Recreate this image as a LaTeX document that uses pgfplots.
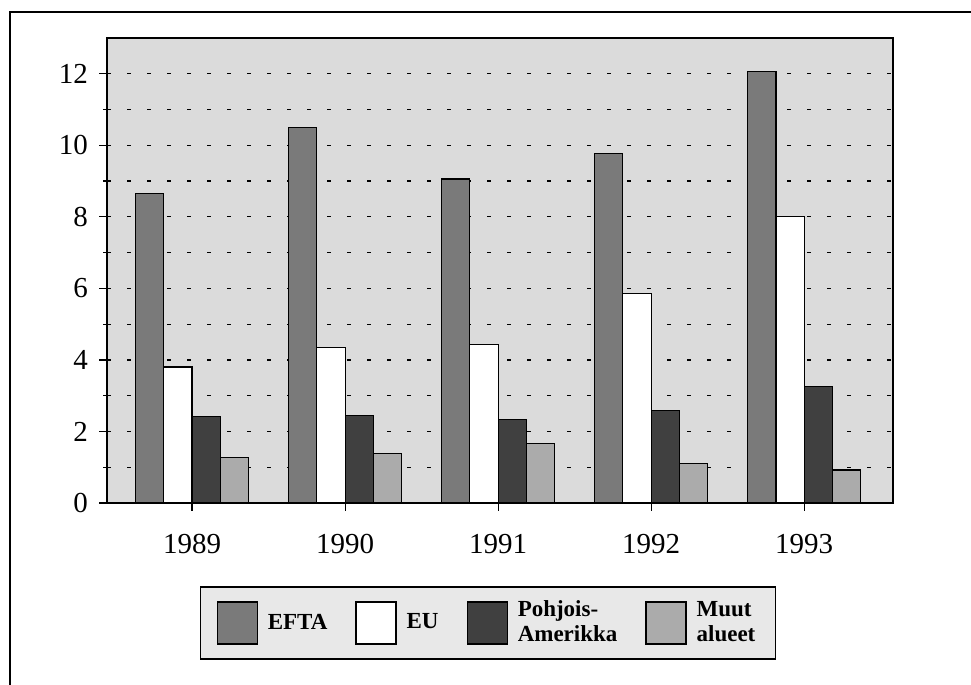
\documentclass[border=0pt]{standalone}
\usepackage{pgfplots}
\pgfplotsset{compat=1.18}
\usepackage{fontspec}
\setmainfont{Liberation Serif}
\begin{document}
\begin{tikzpicture}
\path[use as bounding box] (0pt,0pt) rectangle (485.5pt,342.5pt);
\draw[line width=0.8pt] (5pt,0pt) -- (5pt,336.5pt) -- (485.5pt,336.5pt);
\begin{axis}[
  at={(53.5pt,91pt)}, anchor=south west,
  scale only axis, width=393pt, height=232.5pt,
  xmin=-0.556, xmax=4.58, ymin=0, ymax=13,
  xtick={0,1,2,3,4}, xticklabels={1989,1990,1991,1992,1993},
  ytick={0,2,4,6,8,10,12}, minor ytick={1,3,5,7,9,11},
  /pgf/number format/assume math mode=true,
  ymajorgrids, yminorgrids,
  major grid style={black, line width=0.6pt, dash pattern=on 2pt off 8pt},
  minor grid style={black, line width=0.6pt, dash pattern=on 2pt off 8pt},
  tick align=outside, xtick pos=bottom, ytick pos=left,
  major tick length=4pt, minor tick length=2pt,
  tick style={black, line width=0.6pt},
  axis line style={line width=0.8pt},
  axis background/.style={fill=black!14},
  tick label style={font=\fontsize{14.5}{16}\selectfont},
  yticklabel style={xshift=-2pt},
  xticklabel style={yshift=-8pt},
  ybar, bar width=0.185,
  legend columns=4,
  legend style={at={(0.4847,-0.258)}, anchor=center, fill=black!9, draw=black,
    line width=0.8pt, font=\bfseries\fontsize{11.5}{12.5}\selectfont,
    nodes={align=left}, inner xsep=8pt, inner ysep=5pt,
    /tikz/every even column/.append style={column sep=12pt},
    /tikz/every odd column/.append style={column sep=3pt}},
  legend image code/.code={\draw[#1, line width=0.6pt] (0pt,-10.5pt) rectangle (20pt,10.5pt);},
]
\addplot[fill=black!52, draw=black, line width=0.6pt, bar shift=-0.2775] coordinates {(0,8.66) (1,10.50) (2,9.06) (3,9.78) (4,12.07)};
\addlegendentry{EFTA}
\addplot[fill=white, draw=black, line width=0.6pt, bar shift=-0.0925] coordinates {(0,3.80) (1,4.35) (2,4.43) (3,5.85) (4,8.02)};
\addlegendentry{EU}
\addplot[fill=black!75, draw=black, line width=0.6pt, bar shift=0.0925] coordinates {(0,2.42) (1,2.44) (2,2.33) (3,2.58) (4,3.26)};
\addlegendentry{Pohjois-\\Amerikka}
\addplot[fill=black!33, draw=black, line width=0.6pt, bar shift=0.2775] coordinates {(0,1.27) (1,1.39) (2,1.67) (3,1.11) (4,0.92)};
\addlegendentry{Muut\\alueet}
\end{axis}
\end{tikzpicture}
\end{document}
